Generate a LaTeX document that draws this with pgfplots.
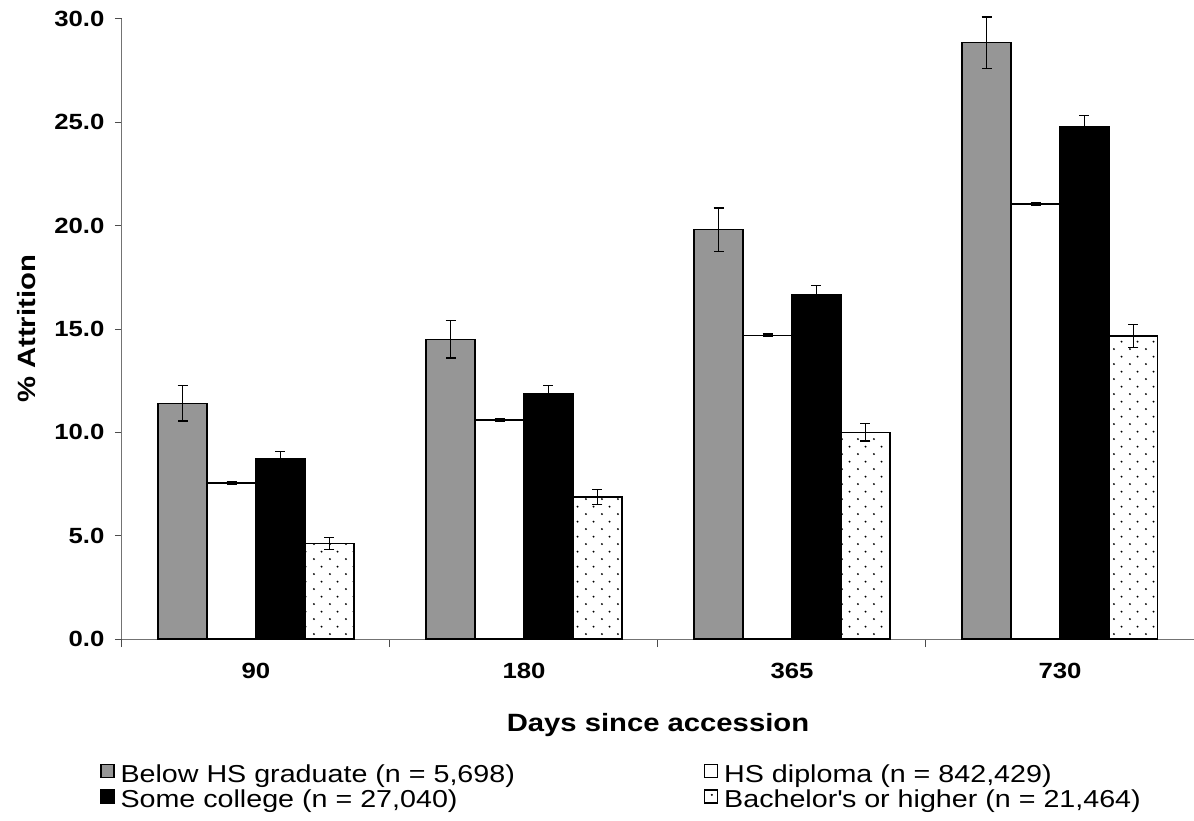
\documentclass[border=0pt]{standalone}
\usepackage{fontspec}
\setmainfont{Liberation Sans}[FakeStretch=1.17]
\usepackage{pgfplots}
\usepackage{pgfplotstable}
\pgfplotsset{compat=1.18}
\usetikzlibrary{patterns}

\pgfdeclarepatternformonly{sparsedots}{\pgfqpoint{0pt}{0pt}}{\pgfqpoint{15.6pt}{15.4pt}}{\pgfqpoint{15.6pt}{15.4pt}}{%
  \pgfpathcircle{\pgfqpoint{2pt}{2pt}}{1.1pt}%
  \pgfpathcircle{\pgfqpoint{9.8pt}{9.7pt}}{1.1pt}%
  \pgfusepath{fill}}

\definecolor{bargray}{RGB}{150,150,150}

% x = category index (0..3) plus the bar's offset within its group
\pgfplotstableread{
x y e
-0.2739 11.4 0.85
0.7261 14.5 0.9
1.7261 19.8 1.05
2.7261 28.85 1.25
}\below
\pgfplotstableread{
x y e
-0.0913 7.55 0.05
0.9087 10.6 0.05
1.9087 14.7 0.06
2.9087 21.05 0.07
}\hsdip
\pgfplotstableread{
x y e
0.0913 8.72 0.35
1.0913 11.85 0.4
2.0913 16.68 0.43
3.0913 24.8 0.53
}\somecol
\pgfplotstableread{
x y e
0.2739 4.62 0.3
1.2739 6.87 0.35
2.2739 10.0 0.42
3.2739 14.66 0.55
}\bach

\pgfplotsset{
  mylegend/.style={legend image code/.code={\draw[##1] (0pt,-1pt) rectangle (13pt,12pt);}},
  myerr/.style={error bars/.cd, y dir=both, y explicit,
     error mark=|,
     error mark options={black, mark size=5pt, line width=1.3pt},
     error bar style={black, line width=1.3pt}},
}

\begin{document}
\begin{tikzpicture}
\path[use as bounding box] (-122pt,-181pt) rectangle (1072pt,639pt);
\begin{axis}[
  at={(0pt,0pt)}, anchor=south west,
  scale only axis,
  width=1072pt, height=620pt,
  xmin=-0.5, xmax=3.5,
  ymin=0, ymax=30,
  clip=false,
  axis x line*=bottom, axis y line*=left,
  axis line style={black!55, line width=1pt},
  tick align=outside,
  xtick={0,1,2,3},
  xticklabels={90,180,365,730},
  minor xtick={-0.5,0.5,1.5,2.5},
  major x tick style={draw=none},
  minor tick length=8pt,
  major tick length=7pt,
  tick style={black!70, line width=1pt},
  ytick={0,5,10,15,20,25,30},
  /pgf/number format/assume math mode=true,
  yticklabel style={/pgf/number format/fixed, /pgf/number format/fixed zerofill, /pgf/number format/precision=1, xshift=-7pt},
  ticklabel style={font=\bfseries\fontsize{22}{26}\selectfont},
  xticklabel style={yshift=-14pt},
  xlabel={Days since accession},
  ylabel={\% Attrition},
  label style={font=\bfseries\fontsize{25}{30}\selectfont},
  xlabel style={yshift=-27pt},
  ylabel style={yshift=12pt},
  legend columns=2,
  legend cell align=left,
  legend style={at={(axis description cs:-0.0205,-0.2016)}, anchor=north west,
    draw=none, fill=none, inner sep=0pt,
    nodes={inner sep=0pt, text height=18pt, text depth=7pt, font=\fontsize{24.5}{28}\selectfont},
    /tikz/column 1/.style={column sep=6pt},
    /tikz/column 2/.style={column sep=189pt},
    /tikz/column 3/.style={column sep=6pt}},
]
\addplot[ybar, bar width=0.1826, bar shift=0pt, fill=bargray, draw=black, line width=1.3pt, mylegend, myerr]
  table[x=x, y=y, y error=e] {\below};
\addlegendentry{Below HS graduate (n = 5,698)}
\addplot[ybar, bar width=0.1826, bar shift=0pt, fill=white, draw=black, line width=1.3pt, mylegend, myerr]
  table[x=x, y=y, y error=e] {\hsdip};
\addlegendentry{HS diploma (n = 842,429)}
\addplot[ybar, bar width=0.1826, bar shift=0pt, fill=black, draw=black, line width=1.3pt, mylegend, myerr]
  table[x=x, y=y, y error=e] {\somecol};
\addlegendentry{Some college (n = 27,040)}
\addplot[ybar, bar width=0.1826, bar shift=0pt, pattern=sparsedots, pattern color=black, draw=black, line width=1.3pt, mylegend, myerr]
  table[x=x, y=y, y error=e] {\bach};
\addlegendentry{Bachelor\textquotesingle s or higher (n = 21,464)}
\end{axis}
\end{tikzpicture}
\end{document}
